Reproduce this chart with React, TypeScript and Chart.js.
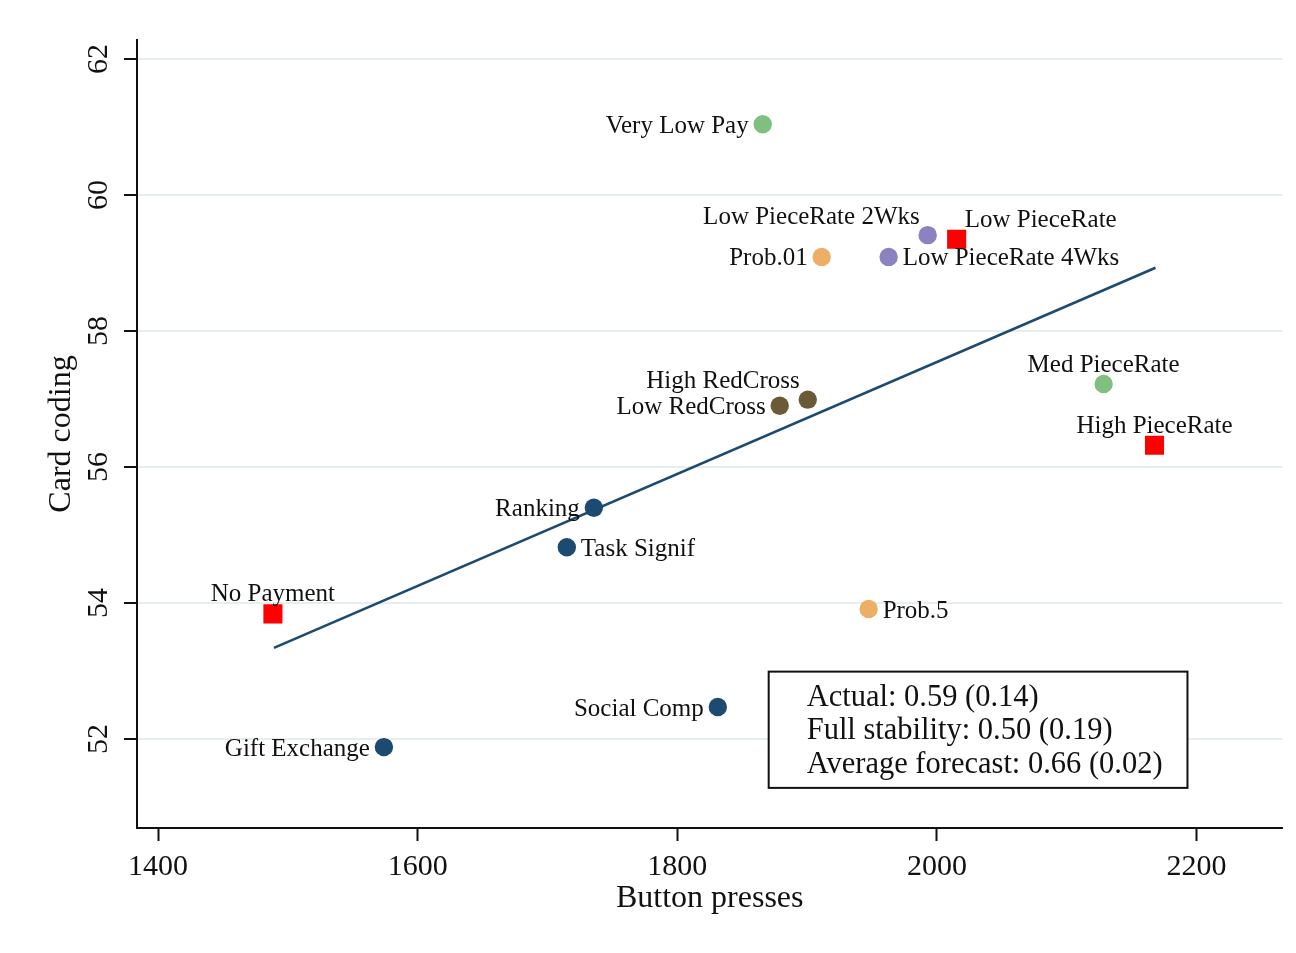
import React, { useEffect, useRef } from "react";
import { Chart, registerables } from "chart.js";

Chart.register(...registerables);

// ---- data ----
const treatmentNames = [
  "Very Low Pay",
  "Low PieceRate 2Wks",
  "Low PieceRate",
  "Prob.01",
  "Low PieceRate 4Wks",
  "Med PieceRate",
  "High PieceRate",
  "High RedCross",
  "Low RedCross",
  "Ranking",
  "Task Signif",
  "No Payment",
  "Prob.5",
  "Social Comp",
  "Gift Exchange",
];
const buttonPresses = [
  1865.8, 1992.9, 2015.2, 1911.2, 1962.8, 2128.4, 2167.6, 1900.5, 1878.9,
  1735.7, 1714.9, 1488.5, 1947.4, 1831.2, 1574.0,
];
const cardCoding = [
  61.04, 59.41, 59.35, 59.09, 59.09, 57.22, 56.32, 56.99, 56.9, 55.4, 54.82,
  53.84, 53.91, 52.47, 51.88,
];
const pointColors = [
  "#7fbf7f", "#8a83c0", "#ff0000", "#edaf66", "#8a83c0", "#7fbf7f", "#ff0000",
  "#6b5a35", "#6b5a35", "#1c4a70", "#1c4a70", "#ff0000", "#edaf66", "#1c4a70",
  "#1c4a70",
];
const pointShapes = [
  "circle", "circle", "rect", "circle", "circle", "circle", "rect", "circle",
  "circle", "circle", "circle", "rect", "circle", "circle", "circle",
];
// label placement as clock positions (Stata style)
const labelPositions = [9, 11, 1, 9, 3, 12, 12, 11, 9, 9, 3, 12, 3, 9, 9];

const fitLineX = [1489.3, 2168.4];
const fitLineY = [53.34, 58.93];

const xTicks = [1400, 1600, 1800, 2000, 2200];
const yTicks = [52, 54, 56, 58, 60, 62];

const xTitle = "Button presses";
const yTitle = "Card coding";

const legendLines = [
  "Actual: 0.59 (0.14)",
  "Full stability: 0.50 (0.19)",
  "Average forecast: 0.66 (0.02)",
];
const legendBoxX = [1870.4, 2193];
const legendBoxY = [52.99, 51.28];

const SERIF = "'Liberation Serif', 'Times New Roman', serif";

const labelPlugin = {
  id: "customText",
  afterDatasetsDraw(chart: any) {
    const ctx = chart.ctx as CanvasRenderingContext2D;
    const xs = chart.scales.x;
    const ys = chart.scales.y;
    const area = chart.chartArea;
    ctx.save();
    ctx.fillStyle = "#111";

    // point labels
    const meta = chart.getDatasetMeta(0);
    ctx.font = `25px ${SERIF}`;
    ctx.textBaseline = "middle";
    meta.data.forEach((el: any, i: number) => {
      const px = el.x;
      const py = el.y + 2;
      const pos = labelPositions[i];
      let tx = px;
      let ty = py;
      let align: CanvasTextAlign = "center";
      if (pos === 9) { align = "right"; tx = px - 14; }
      else if (pos === 3) { align = "left"; tx = px + 14; }
      else if (pos === 12) { align = "center"; ty = py - 21; }
      else if (pos === 11) { align = "right"; tx = px - 8; ty = py - 20; }
      else if (pos === 1) { align = "left"; tx = px + 8; ty = py - 21; }
      ctx.textAlign = align;
      ctx.fillText(treatmentNames[i], tx, ty);
    });

    // y tick labels (rotated)
    ctx.font = `30px ${SERIF}`;
    ctx.textAlign = "center";
    ctx.textBaseline = "middle";
    yTicks.forEach((v) => {
      const py = ys.getPixelForValue(v);
      ctx.save();
      ctx.translate(99, py);
      ctx.rotate(-Math.PI / 2);
      ctx.fillText(String(v), 0, 0);
      ctx.restore();
    });

    // axis titles
    ctx.font = `32px ${SERIF}`;
    ctx.textAlign = "center";
    ctx.textBaseline = "middle";
    ctx.fillText(xTitle, (area.left + area.right) / 2, 899);
    ctx.save();
    ctx.translate(62, (area.top + area.bottom) / 2);
    ctx.rotate(-Math.PI / 2);
    ctx.fillText(yTitle, 0, 0);
    ctx.restore();

    // legend box
    const bx0 = xs.getPixelForValue(legendBoxX[0]);
    const bx1 = xs.getPixelForValue(legendBoxX[1]);
    const by0 = ys.getPixelForValue(legendBoxY[0]);
    const by1 = ys.getPixelForValue(legendBoxY[1]);
    ctx.fillStyle = "#fff";
    ctx.fillRect(bx0, by0, bx1 - bx0, by1 - by0);
    ctx.strokeStyle = "#111";
    ctx.lineWidth = 2;
    ctx.strokeRect(bx0, by0, bx1 - bx0, by1 - by0);
    ctx.fillStyle = "#111";
    ctx.font = `30.5px ${SERIF}`;
    ctx.textAlign = "left";
    ctx.textBaseline = "middle";
    legendLines.forEach((t, i) => {
      ctx.fillText(t, bx0 + 38, by0 + 26 + i * 33.5);
    });
    ctx.restore();
  },
};

export default function App() {
  const canvasRef = useRef<HTMLCanvasElement | null>(null);

  useEffect(() => {
    document.body.style.margin = "0";
    const canvas = canvasRef.current;
    if (!canvas) return;
    const chart = new Chart(canvas, {
      type: "scatter",
      data: {
        datasets: [
          {
            type: "scatter",
            data: buttonPresses.map((x, i) => ({ x, y: cardCoding[i] })),
            backgroundColor: pointColors,
            pointBackgroundColor: pointColors,
            pointBorderWidth: 0,
            borderWidth: 0,
            pointStyle: pointShapes as any,
            pointRadius: pointShapes.map((s) => (s === "rect" ? 13.5 : 9.2)),
            order: 0,
          } as any,
          {
            type: "line",
            data: fitLineX.map((x, i) => ({ x, y: fitLineY[i] })),
            borderColor: "#1c4a70",
            borderWidth: 2.6,
            pointRadius: 0,
            fill: false,
            showLine: true,
            order: 1,
          } as any,
        ],
      },
      options: {
        responsive: false,
        animation: false,
        layout: { padding: { top: 40, right: 13, left: 0, bottom: 0 } },
        plugins: {
          legend: { display: false },
          tooltip: { enabled: false },
          title: { display: false },
        },
        scales: {
          x: {
            type: "linear",
            min: 1383.8,
            max: 2266.2,
            afterBuildTicks: (scale: any) => {
              scale.ticks = xTicks.map((v) => ({ value: v }));
            },
            afterFit: (scale: any) => {
              scale.height = 125;
            },
            grid: {
              drawOnChartArea: false,
              drawTicks: true,
              tickLength: 13,
              tickColor: "#111",
              tickWidth: 2,
            },
            border: { display: true, color: "#111", width: 2 },
            ticks: {
              autoSkip: false,
              maxRotation: 0,
              color: "#111",
              padding: 8,
              font: { family: SERIF, size: 30 },
              callback: (v: any) => String(v),
            },
          },
          y: {
            type: "linear",
            min: 50.69,
            max: 62.28,
            afterBuildTicks: (scale: any) => {
              scale.ticks = yTicks.map((v) => ({ value: v }));
            },
            afterFit: (scale: any) => {
              scale.width = 137;
            },
            grid: {
              color: "#e6eef0",
              lineWidth: 2,
              drawTicks: true,
              tickLength: 13,
              tickColor: "#111",
              tickWidth: 2,
            },
            border: { display: true, color: "#111", width: 2 },
            ticks: { display: false },
          },
        },
      },
      plugins: [labelPlugin],
    } as any);
    return () => chart.destroy();
  }, []);

  return (
    <div style={{ width: 1296, height: 953, background: "#fff" }}>
      <canvas ref={canvasRef} width={1296} height={953} />
    </div>
  );
}
